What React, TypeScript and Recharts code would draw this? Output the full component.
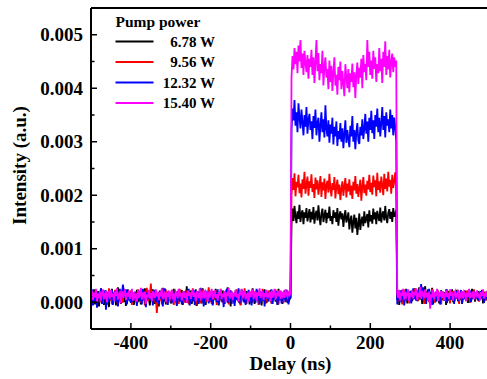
import React from 'react';
import { LineChart, Line, XAxis, YAxis, ReferenceLine, Label } from 'recharts';

// ---- data (intensity values stored in units of 1e-5 a.u.) ----
const UNIT = 1e-5;
const STEP = 2.5; // ns sampling interval

const SERIES_NAMES = ['6.78 W', '9.56 W', '12.32 W', '15.40 W'];
const SERIES_COLORS = ['#000000', '#ff0000', '#0000ff', '#ff00ff'];
const LEGEND_TITLE = 'Pump power';

const X_MAJOR = [-400, -200, 0, 200, 400];
const X_MINOR = [-300, -100, 100, 300];
const Y_MAJOR = [0, 0.001, 0.002, 0.003, 0.004, 0.005];
const Y_MINOR = [0.0005, 0.0015, 0.0025, 0.0035, 0.0045];

// before pulse: -500 .. 0 ns
const BLACK_PRE = [
  -12, 18, 2, 24, -4, 15, 6, 21, -8, 12, 26, 0, 17, -5, 10, 22, 3, 14, -9, 19,
  7, 25, -2, 13, 20, -6, 11, 28, 4, 16, -3, 22, 9, 1, 18, -7, 14, 24, 5, 10,
  -1, 20, 12, -5, 17, 6, 23, 0, 15, 9, -4, 21, 3, 13, 26, -2, 11, 18, 7, -6,
  16, 2, 24, 10, -3, 19, 8, 14, -8, 22, 5, 12, 27, 1, 17, -4, 9, 20, 4, 13,
  -2, 18, 11, 25, 0, 14, -6, 21, 7, 16, 3, 23, -5, 12, 19, 6, 30, -1, 15, 8,
  22, -3, 10, 17, 4, 24, -7, 13, 20, 2, 15, -2, 26, 9, 11, -5, 18, 6, 23, 0,
  14, 21, -4, 12, 8, 25, 3, 16, -6, 19, 10, 1, 22, 7, -3, 17, 13, 28, 5, 11,
  -8, 20, 6, 15, -1, 23, 9, 12, 2, 18, -5, 24, 11, 4, 16, -2, 21, 8, 14, -4,
  19, 5, 26, 10, -3, 15, 7, 22, 0, 13, 20, -6, 17, 3, 24, 9, -1, 12, 18, 6,
  23, -2, 14, 8, 21, 1, 16, -5, 25, 11, 4, 19, -3, 13, 22, 7, 10, -1, 18, 5,
  9,
];
const RED_PRE = [
  8, 20, -3, 14, 5, 22, -6, 11, 17, 0, 24, 9, -2, 15, 6, 19, -5, 12, 26, 3,
  13, -4, 18, 7, 23, 1, 10, -7, 16, 21, 4, 12, -1, 25, 9, 14, -3, 19, 6, 11,
  22, -5, 15, 3, 18, 10, -2, 24, 8, 13, 0, 20, 6, 16, -6, 11, 27, 2, 14, 9,
  35, 5, 17, -1, 22, 10, -20, 8, 19, 3, 14, -4, 21, 12, 6, 24, -2, 15, 9, 18,
  1, 23, 11, -5, 16, 7, 20, 13, -3, 25, 4, 12, 18, -1, 9, 22, 6, 15, -4, 19,
  10, 2, 26, 8, 14, -6, 21, 5, 17, 11, -2, 24, 7, 13, 19, 0, 16, 9, 28, 3,
  12, -3, 20, 6, 15, 23, -5, 11, 18, 4, 25, 9, -1, 14, 7, 21, 2, 17, -4, 13,
  22, 8, 16, -2, 19, 5, 24, 10, 0, 15, -6, 20, 12, 3, 26, 7, -3, 18, 11, 14,
  4, 21, -1, 13, 17, 6, 23, 9, -5, 16, 11, 2, 25, 8, 14, -3, 19, 5, 22, 10,
  15, -2, 20, 7, 12, 24, 1, 17, -4, 13, 21, 6, 10, -1, 18, 9, 23, 3, 14, 8,
  11,
];
const BLUE_PRE = [
  10, 24, -6, 16, 2, 21, -10, 12, 18, 4, 26, -3, 14, 8, 22, -14, 11, 19, 0, 15,
  6, 23, -5, 13, 20, 1, 17, -8, 11, 25, 3, 15, 33, 19, 9, 24, -4, 12, 7, 18,
  -1, 14, 3, 5, 20, 10, -7, 16, 22, 2, 12, -4, 25, 8, 15, -9, 18, 6, 21, 11,
  4, 19, -6, 13, 23, 0, 16, 9, -3, 21, 7, 14, -8, 18, 26, 3, 11, -5, 20, 8,
  15, -2, 22, 6, 12, 19, -7, 10, 24, 1, 17, -4, 13, 9, 21, -1, 16, 5, 25, -6,
  11, 18, 2, 23, -5, 14, 8, 20, -3, 12, 27, 4, 16, -8, 10, 22, 6, 15, -2, 19,
  3, 13, -6, 21, 9, 17, 0, 24, -4, 11, 18, 5, 14, -9, 20, 8, 25, -1, 12, 6,
  22, -3, 16, 10, -7, 19, 4, 13, 26, -2, 15, 8, 21, 0, 11, -5, 17, 7, 23, 2,
  14, -6, 20, 9, 12, -1, 25, 5, 16, -4, 18, 10, 3, 22, -8, 13, 7, 19, 1, 15,
  8, 24, -3, 11, 17, 4, 21, -5, 14, 9, 20, -2, 12, 6, 18, 0, 23, 10, -4, 16,
  7,
];
const MAGENTA_PRE = [
  14, 22, 4, 18, 9, 25, 1, 16, 11, 20, 3, 17, 24, 6, 13, 21, 0, 15, 19, 7,
  23, 10, 16, 2, 20, 12, 26, 5, 14, 18, -2, 21, 9, 15, 24, 4, 17, 11, 22, 6,
  13, 25, 3, 19, 10, 16, 1, 22, 8, 14, 27, 5, 18, 12, 20, -3, 15, 9, 23, 7,
  17, 2, 21, 13, 8, 24, 11, 16, 4, 19, 14, 26, 6, 12, 20, 0, 18, 10, 22, 5,
  15, 23, 9, 13, 1, 20, 16, 7, 25, 11, 18, 3, 14, 21, 8, 17, -1, 22, 12, 19,
  6, 15, 24, 10, 18, 2, 21, 13, 8, 26, 4, 16, 11, 23, 7, 19, 14, 1, 20, 9,
  17, 25, 5, 12, 22, 8, 15, 3, 19, 13, 24, 6, 16, 10, 21, 0, 18, 12, 27, 7,
  14, 20, 4, 17, 11, 23, 9, 15, 2, 19, 13, 25, 7, 16, 22, 5, 12, 18, 1, 21,
  10, 16, 24, 6, 14, 20, 3, 18, 12, 26, 8, 15, 21, 4, 17, 11, 23, 7, 13, 19,
  2, 22, 9, 16, 25, 5, 14, 19, 11, 23, 6, 17, 12, 20, 8, 24, 15, 10, 21, 13,
  16,
];

// pulse: 2.5 .. 265 ns
const BLACK_PULSE = [
  145, 175, 152, 180, 160, 148, 170, 156, 182, 150, 165, 172, 146, 168, 158, 176, 151, 163, 174, 149,
  169, 155, 178, 147, 164, 171, 153, 181, 159, 144, 166, 175, 150, 162, 173, 148, 167, 157, 179, 152,
  161, 146, 172, 158, 168, 150, 176, 143, 163, 170, 155, 166, 141, 160, 172, 149, 157, 168, 136, 154,
  162, 130, 150, 164, 138, 158, 126, 145, 166, 135, 152, 160, 142, 170, 148, 156, 165, 140, 172, 151,
  163, 147, 175, 155, 168, 146, 171, 159, 152, 177, 149, 164, 170, 153, 180, 158, 148, 167, 174, 156,
  169, 150, 176, 160, 165, 172,
];
const RED_PULSE = [
  200, 232, 210, 241, 198, 225, 215, 238, 204, 222, 196, 230, 212, 244, 203, 220, 235, 199, 226, 214,
  239, 206, 221, 195, 233, 211, 228, 201, 218, 236, 197, 224, 209, 231, 193, 219, 227, 205, 240, 213,
  198, 223, 210, 234, 194, 216, 229, 202, 220, 191, 212, 226, 199, 217, 232, 196, 222, 207, 230, 200,
  218, 193, 225, 209, 236, 203, 221, 197, 214, 229, 190, 216, 234, 204, 220, 199, 227, 211, 238, 206,
  223, 201, 237, 215, 228, 198, 242, 210, 226, 205, 235, 219, 200, 240, 212, 231, 207, 244, 216, 229,
  203, 238, 214, 226, 243, 218,
];
const BLUE_PULSE = [
  320, 362, 340, 378, 330, 355, 318, 372, 345, 325, 360, 336, 312, 350, 328, 365, 315, 342, 352, 322,
  338, 305, 348, 326, 360, 312, 335, 345, 300, 330, 355, 318, 342, 308, 368, 325, 310, 340, 298, 332,
  315, 345, 295, 328, 310, 338, 292, 320, 305, 335, 300, 325, 288, 315, 340, 298, 322, 306, 290, 330,
  310, 348, 300, 322, 286, 318, 335, 302, 296, 328, 312, 342, 305, 325, 352, 315, 338, 300, 345, 322,
  358, 316, 340, 305, 350, 328, 362, 318, 345, 310, 335, 365, 322, 348, 308, 355, 330, 342, 318, 360,
  325, 350, 312, 345, 328, 300,
];
const MAGENTA_PULSE = [
  420, 460, 435, 475, 445, 468, 428, 480, 450, 490, 438, 465, 425, 470, 448, 430, 462, 418, 455, 440,
  472, 425, 458, 410, 450, 490, 432, 466, 415, 445, 428, 470, 405, 440, 458, 420, 436, 398, 452, 412,
  442, 395, 430, 458, 405, 425, 388, 440, 415, 450, 398, 432, 410, 385, 445, 420, 400, 436, 392, 428,
  412, 446, 402, 430, 382, 425, 448, 408, 438, 420, 455, 400, 462, 430, 445, 415, 490, 440, 468, 425,
  452, 418, 470, 436, 458, 412, 445, 428, 475, 432, 455, 410, 468, 440, 488, 425, 460, 435, 472, 420,
  448, 465, 430, 458, 440, 452,
];

// after pulse: 267.5 .. 500 ns
const BLACK_POST = [
  4, 20, -5, 14, 9, 23, 0, 16, 11, 25, -2, 13, 19, 6, 22, 2, 17, 8, 26, 3,
  15, 10, 28, 5, 18, -3, 21, 12, 30, 7, 16, 24, 1, 19, 11, 27, -4, 14, 9, 20,
  6, 17, -2, 13, 22, 4, 15, 10, 19, -5, 12, 21, 3, 16, 8, 24, 0, 14, 18, 7,
  23, 2, 13, 9, 20, -3, 15, 11, 22, 5, 17, -1, 12, 19, 6, 25, 10, 14, 1, 18,
  8, 21, 4, 16, 11, 23, -2, 13, 19, 7, 15, 10, 22, 5,
];
const RED_POST = [
  13, 1, 18, 7, 22, -4, 15, 10, 24, 3, 12, 19, -2, 16, 8, 21, 5, 14, 26, 9,
  17, 2, 20, 11, 31, 6, 14, -3, 23, 12, 8, 19, 0, 16, 10, 25, 4, 13, -1, 18,
  9, 22, 5, 15, -4, 12, 20, 7, 17, 1, 24, 11, 14, -2, 19, 6, 21, 10, 3, 16,
  12, 23, -3, 14, 8, 20, 5, 17, 11, 2, 22, 9, 15, -1, 18, 7, 13, 24, 4, 16,
  10, 19, 1, 14, 8, 21, 6, 17, 12, 3, 20, 9, 15, 11,
];
const BLUE_POST = [
  -4, 16, 5, 22, 0, 12, 19, -6, 10, 24, 3, 15, 8, 21, -2, 13, 26, 6, 17, 11,
  2, 23, 9, 18, 34, 4, 28, 12, 20, -3, 15, 7, 25, 10, 16, -5, 21, 8, 13, 1,
  19, 6, 14, -4, 22, 9, 17, 3, 12, 24, -1, 15, 8, 20, 5, 11, 18, -3, 14, 7,
  21, 2, 16, 10, 23, -2, 13, 6, 19, 11, 4, 17, 9, 22, 0, 15, 8, 20, 5, 12,
  18, 3, 14, 9, 21, 7, 16, -1, 12, 19, 6, 15, 10, 13,
];
const MAGENTA_POST = [
  16, 8, 23, 3, 18, 12, 25, 5, 20, 10, 15, 24, 2, 17, 11, 22, 7, 19, 13, 26,
  4, 18, 10, 29, 6, 21, 14, 8, 24, 12, 17, 3, 20, -12, 15, 9, 23, 6, 18, 11,
  25, 2, 16, 13, 21, 8, 19, 4, 14, 22, 10, 17, 6, 24, 12, 18, 3, 15, 20, 9,
  13, 23, 5, 16, 11, 21, 7, 19, 14, 2, 18, 10, 25, 8, 15, 12, 20, 6, 17, 13,
  22, 9, 16, 4, 19, 12, 24, 7, 14, 18, 10, 21, 15, 11,
];

type Pt = { x: number; y: number };
function buildSeries(pre: number[], pulse: number[], post: number[]): Pt[] {
  const out: Pt[] = [];
  pre.forEach((v, i) => out.push({ x: -(pre.length - 1 - i) * STEP, y: v * UNIT }));
  pulse.forEach((v, i) => out.push({ x: (i + 1) * STEP, y: v * UNIT }));
  const end = pulse.length * STEP;
  post.forEach((v, i) => out.push({ x: end + (i + 1) * STEP, y: v * UNIT }));
  return out;
}

const SERIES_DATA = [
  buildSeries(BLACK_PRE, BLACK_PULSE, BLACK_POST),
  buildSeries(RED_PRE, RED_PULSE, RED_POST),
  buildSeries(BLUE_PRE, BLUE_PULSE, BLUE_POST),
  buildSeries(MAGENTA_PRE, MAGENTA_PULSE, MAGENTA_POST),
];

const X_TICKS = [...X_MAJOR, ...X_MINOR].sort((a, b) => a - b);
const Y_TICKS = [...Y_MAJOR, ...Y_MINOR].sort((a, b) => a - b);

const FONT = "'Liberation Serif', 'Times New Roman', serif";

const isIn = (arr: number[], v: number) => arr.some((m) => Math.abs(m - v) < 1e-9);

const YTick = (props: any) => {
  const { x, y, payload } = props;
  const major = isIn(Y_MAJOR, payload.value);
  return (
    <g>
      <line x1={x} x2={x + (major ? 6 : 3.5)} y1={y} y2={y} stroke="#000" strokeWidth={1.5} />
      {major && (
        <text x={x - 8} y={y + 6.5} textAnchor="end" fontFamily={FONT} fontWeight="bold" fontSize={19} fill="#000">
          {payload.value.toFixed(3)}
        </text>
      )}
    </g>
  );
};

const XTick = (props: any) => {
  const { x, y, payload } = props;
  const major = isIn(X_MAJOR, payload.value);
  return (
    <g>
      <line x1={x} x2={x} y1={y} y2={y - (major ? 6 : 3.5)} stroke="#000" strokeWidth={1.5} />
      {major && (
        <text x={x} y={y + 20} textAnchor="middle" fontFamily={FONT} fontWeight="bold" fontSize={19} fill="#000">
          {String(payload.value)}
        </text>
      )}
    </g>
  );
};

export default function App() {
  return (
    <div style={{ position: 'absolute', left: 0, top: 0, width: 487, height: 379, overflow: 'hidden', background: '#fff' }}>
      <LineChart width={495} height={379} margin={{ top: 8, right: 5, bottom: 10, left: 0 }}>
        <XAxis
          type="number"
          dataKey="x"
          domain={[-500, 500]}
          ticks={X_TICKS}
          interval={0}
          tickLine={false}
          tickSize={0}
          tickMargin={0}
          tick={<XTick />}
          axisLine={{ stroke: '#000', strokeWidth: 2 }}
          height={40}
          allowDataOverflow
        >
          <Label
            content={(p: any) => {
              const vb = p.viewBox;
              return (
                <text x={vb.x + vb.width / 2} y={vb.y + 41} textAnchor="middle" fontFamily={FONT} fontWeight="bold" fontSize={19} fill="#000">
                  Delay (ns)
                </text>
              );
            }}
          />
        </XAxis>
        <YAxis
          type="number"
          domain={[-0.0005, 0.0055]}
          ticks={Y_TICKS}
          interval={0}
          tickLine={false}
          tickSize={0}
          tickMargin={0}
          tick={<YTick />}
          axisLine={{ stroke: '#000', strokeWidth: 2 }}
          width={91}
          allowDataOverflow
        >
          <Label
            content={(p: any) => {
              const vb = p.viewBox;
              const cx = 26;
              const cy = vb.y + vb.height / 2 - 3;
              return (
                <text x={cx} y={cy} textAnchor="middle" transform={`rotate(-90, ${cx}, ${cy})`} fontFamily={FONT} fontWeight="bold" fontSize={19} fill="#000">
                  Intensity (a.u.)
                </text>
              );
            }}
          />
        </YAxis>
        <ReferenceLine y={0.0055} stroke="#000" strokeWidth={2} />
        <ReferenceLine x={500} stroke="#000" strokeWidth={2} />
        {SERIES_DATA.map((d, i) => (
          <Line
            key={SERIES_NAMES[i]}
            data={d}
            dataKey="y"
            type="linear"
            stroke={SERIES_COLORS[i]}
            strokeWidth={1.8}
            dot={false}
            activeDot={false}
            isAnimationActive={false}
          />
        ))}
      </LineChart>
      <svg width={487} height={379} style={{ position: 'absolute', left: 0, top: 0, pointerEvents: 'none' }}>
        <text x={115.5} y={27} fontFamily={FONT} fontWeight="bold" fontSize={15.5} fill="#000">
          {LEGEND_TITLE}
        </text>
        {SERIES_NAMES.map((name, i) => {
          const ly = 41.5 + i * 20.5;
          return (
            <g key={name}>
              <line x1={115.5} x2={153.5} y1={ly} y2={ly} stroke={SERIES_COLORS[i]} strokeWidth={2} />
              <text x={215} y={ly + 5} textAnchor="end" fontFamily={FONT} fontWeight="bold" fontSize={15} fill="#000">
                {name}
              </text>
            </g>
          );
        })}
      </svg>
    </div>
  );
}
